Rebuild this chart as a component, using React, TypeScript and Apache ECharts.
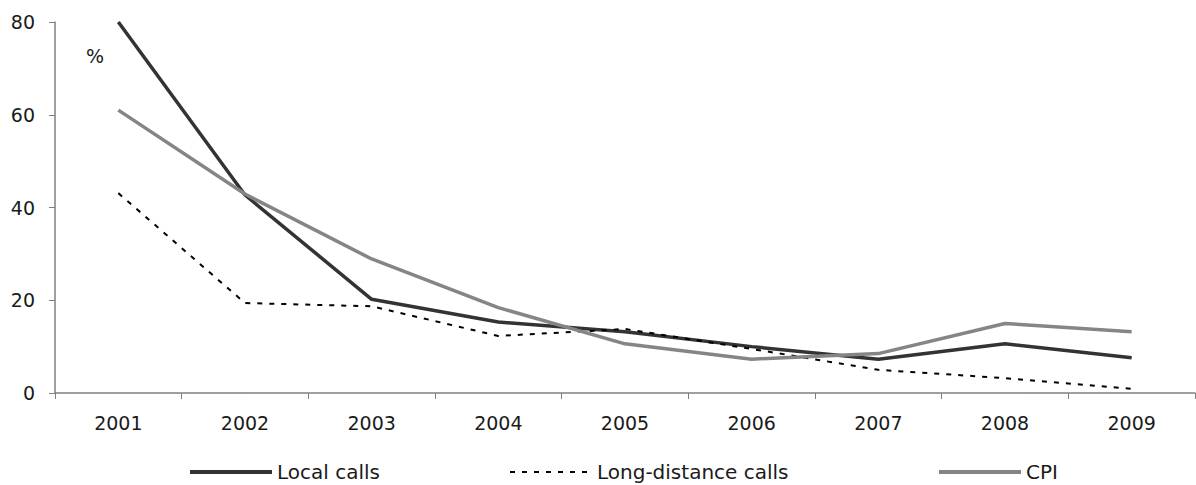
import React, { useEffect, useRef } from "react";
import * as echarts from "echarts";

const years = ["2001", "2002", "2003", "2004", "2005", "2006", "2007", "2008", "2009"];
const localCalls = [80, 42.7, 20.2, 15.3, 13.2, 10.0, 7.3, 10.6, 7.6];
const longDistanceCalls = [43.1, 19.4, 18.7, 12.3, 13.8, 9.5, 5.0, 3.2, 0.9];
const cpi = [61, 42.9, 28.9, 18.4, 10.6, 7.3, 8.5, 15.0, 13.2];

const FONT = "DejaVu Sans";

export default function App() {
  const ref = useRef<HTMLDivElement>(null);
  useEffect(() => {
    if (!ref.current) return;
    const chart = echarts.init(ref.current, null, { renderer: "svg" });
    const legendText = { color: "#1a1a1a", fontSize: 20, fontFamily: FONT };
    const legendBase = {
      top: 457,
      itemWidth: 82,
      itemHeight: 14,
      itemGap: 0,
      textStyle: legendText,
      selectedMode: false,
      itemStyle: { opacity: 0, borderWidth: 0 },
    };
    chart.setOption({
      animation: false,
      backgroundColor: "#fff",
      grid: { left: 55, right: 1, top: 22, bottom: 92, containLabel: false },
      legend: [
        { ...legendBase, data: ["Local calls"], left: 183, lineStyle: { width: 4 } },
        { ...legendBase, data: ["Long-distance calls"], left: 504, lineStyle: { width: 2, type: [5, 7] } },
        { ...legendBase, data: ["CPI"], left: 932, lineStyle: { width: 4 } },
      ],
      xAxis: {
        type: "category",
        data: years,
        boundaryGap: true,
        axisLine: { lineStyle: { color: "#808080", width: 1.5 } },
        axisTick: { show: true, length: 6, lineStyle: { color: "#808080" } },
        axisLabel: { color: "#1a1a1a", fontSize: 19, fontFamily: FONT, margin: 20 },
        splitLine: { show: false },
      },
      yAxis: {
        type: "value",
        min: 0,
        max: 80,
        interval: 20,
        axisLine: { show: true, lineStyle: { color: "#808080", width: 1.5 } },
        axisTick: { show: true, length: 6, lineStyle: { color: "#808080" } },
        axisLabel: { color: "#1a1a1a", fontSize: 19, fontFamily: FONT, margin: 20 },
        splitLine: { show: false },
      },
      graphic: [
        { type: "text", left: 86, top: 46, style: { text: "%", fill: "#1a1a1a", fontSize: 19, fontFamily: FONT } },
      ],
      series: [
        {
          name: "Local calls",
          type: "line",
          data: localCalls,
          symbol: "none",
          lineStyle: { color: "#333333", width: 3.5 },
          itemStyle: { color: "#333333" },
        },
        {
          name: "Long-distance calls",
          type: "line",
          data: longDistanceCalls,
          symbol: "none",
          lineStyle: { color: "#000000", width: 2, type: [5, 7] },
          itemStyle: { color: "#000000" },
        },
        {
          name: "CPI",
          type: "line",
          data: cpi,
          symbol: "none",
          lineStyle: { color: "#858585", width: 3.5 },
          itemStyle: { color: "#858585" },
        },
      ],
    });
    return () => chart.dispose();
  }, []);
  return <div ref={ref} style={{ width: 1196, height: 485, position: "absolute", left: 0, top: 0 }} />;
}
